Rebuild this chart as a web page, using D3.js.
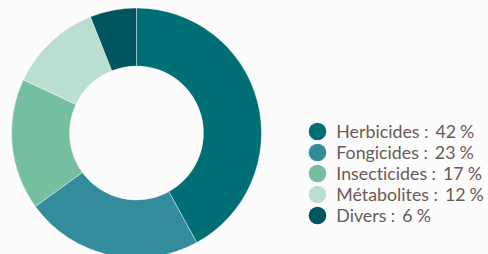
<!DOCTYPE html>
<html>
<head>
<meta charset="utf-8">
<script src="https://cdn.jsdelivr.net/npm/d3@7"></script>
<style>
  body { margin: 0; background: #fcfcfc; }
</style>
</head>
<body>
<div id="chart"></div>
<script>
// Data
let categories = ["Herbicides", "Fongicides", "Insecticides", "Métabolites", "Divers"];
let values = [42, 23, 17, 12, 6];
let colors = ["#006f75", "#338c9c", "#76bea0", "#badfd1", "#005660"];

// Set size
let w = 488;
let h = 254;
let cx = 136.5;
let cy = 133;
let outer = 125;
let inner = 67;

let svg = d3.select("#chart").append("svg").attr("width", w).attr("height", h);

let pie = d3.pie().sort(null).value((d) => d);
let arc = d3.arc().innerRadius(inner).outerRadius(outer);
let color = d3.scaleOrdinal().domain(categories).range(colors);

// Create slices
svg
  .append("g")
  .attr("transform", "translate(" + cx + "," + cy + ")")
  .selectAll("path")
  .data(pie(values))
  .enter()
  .append("path")
  .attr("d", arc)
  .attr("fill", (d, i) => color(categories[i]))
  .attr("stroke", "#fcfcfc")
  .attr("stroke-width", 0.4);

// Legend
let yScale = d3.scalePoint().domain(categories).range([131.5, 215.5]);
let legend = svg
  .append("g")
  .selectAll("g")
  .data(categories)
  .enter()
  .append("g")
  .attr("transform", (d) => "translate(317.5," + yScale(d) + ")");

legend.append("circle").attr("r", 8.8).attr("fill", (d) => color(d));

let label = legend
  .append("text")
  .attr("x", 18.8)
  .attr("dy", "0.35em")
  .attr("font-family", "Lato")
  .attr("font-size", "17.8px")
  .attr("fill", "#6b5a54")
  .style("font-variant-ligatures", "none");

// narrow gaps around the colon and before the percent sign
label.append("tspan").text((d) => d);
label.append("tspan").attr("dx", 4.5).text(":");
label.append("tspan").attr("dx", 7).text((d, i) => values[i]);
label.append("tspan").attr("dx", 4).text("%");
</script>
</body>
</html>
